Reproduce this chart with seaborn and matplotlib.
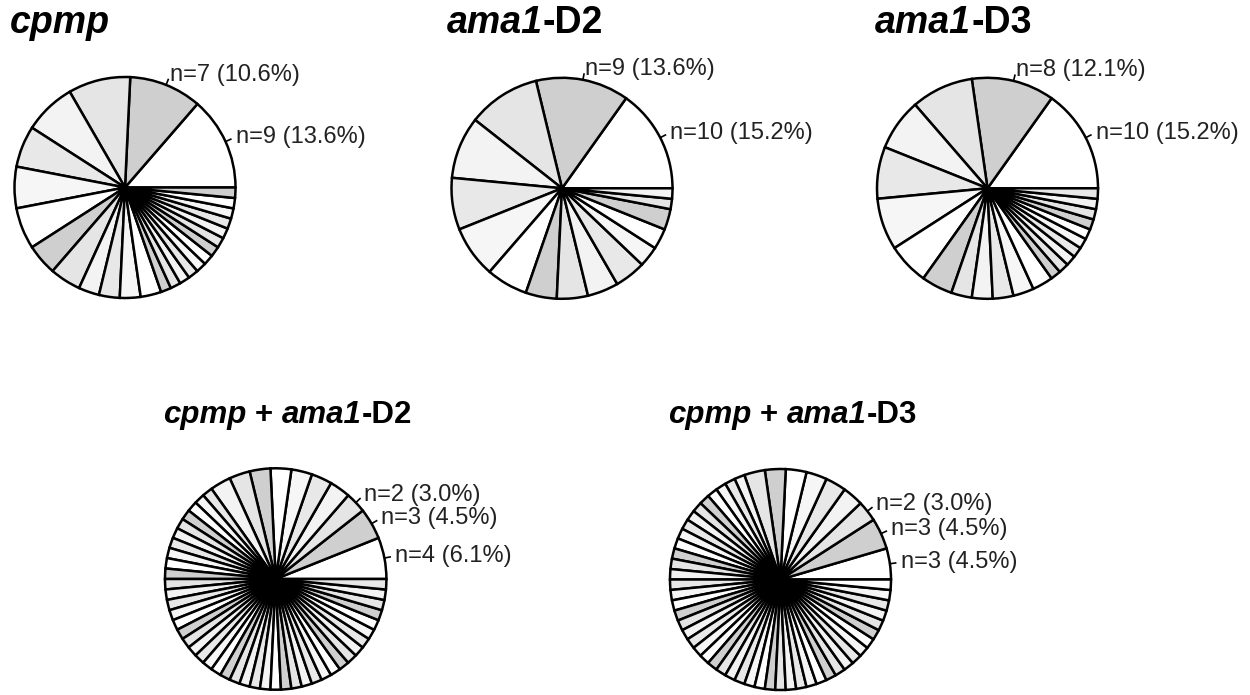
import numpy as np
import matplotlib
matplotlib.use("Agg")
import matplotlib.pyplot as plt
import seaborn as sns

# slice counts, read counter-clockwise starting at 3 o'clock (n = 66 each)
cpmp = [9, 7, 6, 5, 4, 4, 4, 3, 3, 2, 2, 2, 2,
        1, 1, 1, 1, 1, 1, 1, 1, 1, 1, 1, 1, 1]
ama1_d2 = [10, 9, 7, 6, 5, 5, 4, 3, 3, 3, 3, 2, 2, 2, 1, 1]
ama1_d3 = [10, 8, 6, 5, 5, 5, 4, 3, 2, 2, 2, 2, 2,
           1, 1, 1, 1, 1, 1, 1, 1, 1, 1]
cpmp_ama1_d2 = [4, 3, 2, 2, 2, 2, 2, 2, 2, 2,
                1, 1, 1, 1, 1, 1, 1, 1, 1, 1, 1, 1, 1, 1, 1,
                1, 1, 1, 1, 1, 1, 1, 1, 1, 1, 1, 1, 1, 1, 1,
                1, 1, 1, 1, 1, 1, 1, 1, 1, 1, 1, 1, 1]
cpmp_ama1_d3 = [3, 3, 2, 2, 2, 2, 2, 2, 2,
                1, 1, 1, 1, 1, 1, 1, 1, 1, 1, 1, 1, 1, 1, 1, 1,
                1, 1, 1, 1, 1, 1, 1, 1, 1, 1, 1, 1, 1, 1, 1, 1,
                1, 1, 1, 1, 1, 1, 1, 1, 1, 1, 1, 1, 1, 1]

# titles: (text, italic?) pieces
titles = {
    "cpmp": [("cpmp", True)],
    "ama1-D2": [("ama1", True), ("-D2", False)],
    "ama1-D3": [("ama1", True), ("-D3", False)],
    "cpmp + ama1-D2": [("cpmp", True), (" + ", False), ("ama1", True), ("-D2", False)],
    "cpmp + ama1-D3": [("cpmp", True), (" + ", False), ("ama1", True), ("-D3", False)],
}
# how many of the leading slices get an "n=.. (..%)" label
n_labelled = [2, 2, 2, 3, 3]

grays = ["#ffffff", "#cfcfcf", "#e5e5e5", "#f3f3f3", "#e8e8e8", "#f6f6f6"]

sns.set_theme(style="white")
plt.rcParams["font.family"] = ["Liberation Sans", "DejaVu Sans"]

W, H = 1250, 695
fig = plt.figure(figsize=(W / 100, H / 100), dpi=100)

# layout in pixels: pie centre x, y, radius, title x, title baseline, title size
layout = [
    (125, 187.5, 110.5, 10, 33, 27),
    (562, 188.3, 110.5, 447, 33, 27),
    (987.5, 188.3, 110.5, 875, 33, 27),
    (275.7, 579, 110.7, 163, 423, 22.5),
    (780.5, 579.5, 110.5, 668, 423, 22.5),
]
datasets = [cpmp, ama1_d2, ama1_d3, cpmp_ama1_d2, cpmp_ama1_d3]
title_keys = list(titles.keys())

renderer = fig.canvas.get_renderer()
label_size = 17
pad = 1.1

for (cx, cy, r, tx, ty, tsize), values, key, nl in zip(layout, datasets, title_keys, n_labelled):
    half = r * pad
    ax = fig.add_axes([(cx - half) / W, 1 - (cy + half) / H, 2 * half / W, 2 * half / H])
    colors = [grays[i % len(grays)] for i in range(len(values))]
    ax.pie(values, startangle=0, counterclock=True, colors=colors,
           wedgeprops=dict(edgecolor="black", linewidth=1.8))
    ax.set_xlim(-pad, pad)
    ax.set_ylim(-pad, pad)
    ax.set_aspect("equal")
    ax.axis("off")

    total = sum(values)
    cum = np.cumsum([0] + values[:-1])
    for i in range(nl):
        mid = np.deg2rad(360 * (cum[i] + values[i] / 2) / total)
        c, s = np.cos(mid), np.sin(mid)
        ax.plot([c * 1.0, c * 1.06], [s * 1.0, s * 1.06], color="black", lw=1.2,
                clip_on=False, solid_capstyle="butt")
        ax.text(c * 1.1, s * 1.1, f"n={values[i]} ({values[i] / total * 100:.1f}%)",
                ha="left", va="center", fontsize=label_size, color="#222222",
                clip_on=False)

    # title built from italic / upright bold pieces
    x = tx
    space_px = 0.278 * tsize * 100 / 72
    for piece, italic in titles[key]:
        stripped = piece.strip()
        lead = len(piece) - len(piece.lstrip())
        trail = len(piece) - len(piece.rstrip())
        x += lead * space_px
        t = fig.text(x / W, 1 - ty / H, stripped, fontsize=tsize, fontweight="bold",
                     fontstyle="italic" if italic else "normal", va="baseline", ha="left",
                     color="black")
        bb = t.get_window_extent(renderer)
        x = bb.x1 + trail * space_px

fig.savefig("out.png", dpi=100)
